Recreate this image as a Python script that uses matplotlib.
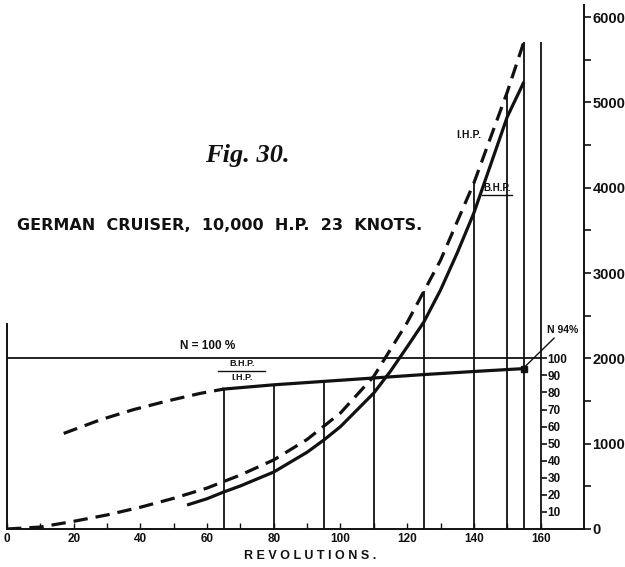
import numpy as np
import matplotlib
matplotlib.use("Agg")
import matplotlib.pyplot as plt

# Indicated horse-power (dashed) against revolutions per minute
rev_ihp = [0, 10, 20, 30, 40, 50, 60, 70, 80, 90, 100, 110, 120, 130, 140, 150, 155]
ihp = [0, 23, 90, 165, 255, 360, 480, 633, 810, 1050, 1360, 1790, 2420, 3150, 4055, 5120, 5710]

# Brake horse-power (solid)
rev_bhp = [54, 60, 65, 70, 80, 90, 95, 100, 110, 115, 120, 125, 130, 135, 140, 150, 155]
bhp = [281, 355, 434, 505, 668, 900, 1043, 1200, 1594, 1850, 2135, 2426, 2801, 3235, 3704, 4830, 5240]

# Mechanical efficiency B.H.P./I.H.P. in per cent (dashed part, then solid part)
rev_eff_low = [17, 28, 38, 48, 58, 65]
eff_low = [56, 64, 70, 75, 79.5, 82]
rev_eff = [65, 80, 95, 110, 125, 140, 155]
eff = [82, 84.5, 86.5, 88.5, 90.5, 92.3, 94]

# Axis scales
rev_ticks = [0, 20, 40, 60, 80, 100, 120, 140, 160]
rev_minor = [10, 30, 50, 70, 90, 110, 130, 150]
hp_ticks = [0, 1000, 2000, 3000, 4000, 5000, 6000]
hp_minor = [500, 1500, 2500, 3500, 4500, 5500]
pct_ticks = [10, 20, 30, 40, 50, 60, 70, 80, 90, 100]
ordinate_revs = [65, 80, 95, 110, 125, 140, 150, 155, 160]

HP_PER_PCT = 20.0        # 100 % is drawn at the 2000 H.P. level
HP_AXIS_REV = 173        # position of the H.P. scale
PCT_AXIS_REV = 160       # position of the per-cent scale
X_MAX = 175

INK = "#111111"
NUM_FONT = "Liberation Sans"

fig = plt.figure(figsize=(6.25, 5.67), dpi=100)
ax = fig.add_axes([7 / 625, 38 / 567, 583.6 / 625, 529 / 567])
ax.set_xlim(0, X_MAX)
ax.set_ylim(0, 6200)
ax.patch.set_alpha(0)

dash = (0, (4.5, 2.5))
lw_curve = 2.3
lw_thin = 1.3

# ordinates up to the curves they meet
for r in ordinate_revs:
    if r <= 110:
        top = np.interp(r, rev_eff, eff) * HP_PER_PCT
    else:
        top = np.interp(min(r, rev_ihp[-1]), rev_ihp, ihp)
    ax.vlines(r, 0, top, color=INK, lw=lw_thin)

# 100 % line
ax.hlines(100 * HP_PER_PCT, 0, PCT_AXIS_REV, color=INK, lw=lw_thin)

# power curves
ax.plot(rev_ihp, ihp, color=INK, lw=lw_curve, linestyle=dash, dash_capstyle="butt")
ax.plot(rev_bhp, bhp, color=INK, lw=lw_curve, solid_capstyle="butt")

# efficiency curve
ax.plot(rev_eff_low, np.array(eff_low) * HP_PER_PCT, color=INK, lw=lw_curve,
        linestyle=dash, dash_capstyle="butt")
ax.plot(rev_eff, np.array(eff) * HP_PER_PCT, color=INK, lw=lw_curve)
ax.plot(rev_eff[-1], eff[-1] * HP_PER_PCT, marker="s", ms=4.5, color=INK)

# spines
ax.spines["top"].set_visible(False)
ax.spines["bottom"].set_bounds(0, HP_AXIS_REV)
ax.spines["left"].set_bounds(0, 2400)
ax.spines["right"].set_position(("data", HP_AXIS_REV))
ax.spines["right"].set_bounds(0, 6140)
for s in ax.spines.values():
    s.set_color(INK)
    s.set_linewidth(1.4)

# revolutions scale
ax.set_xticks(rev_ticks)
ax.set_xticks(rev_minor, minor=True)
ax.set_xticklabels([str(v) for v in rev_ticks], fontfamily=NUM_FONT,
                   fontweight="bold", fontsize=8.5)
ax.tick_params(axis="x", which="both", direction="in", length=4, width=1,
               color=INK, pad=3, labelcolor=INK)
ax.set_xlabel("R E V O L U T I O N S .", fontfamily=NUM_FONT, fontweight="bold",
              fontsize=9, color=INK)
ax.xaxis.set_label_coords(91 / X_MAX, -0.040)

# horse-power scale
ax.yaxis.set_ticks_position("right")
ax.set_yticks(hp_ticks)
ax.set_yticks(hp_minor, minor=True)
ax.set_yticklabels([str(v) for v in hp_ticks], fontfamily=NUM_FONT,
                   fontweight="bold", fontsize=10.5)
ax.tick_params(axis="y", which="both", direction="out", length=5, width=1.2,
               color=INK, pad=1, labelcolor=INK)

# per-cent scale on the 160 revolutions ordinate
pct = ax.secondary_yaxis(PCT_AXIS_REV / X_MAX,
                         functions=(lambda h: h / HP_PER_PCT, lambda p: p * HP_PER_PCT))
pct.set_yticks(pct_ticks)
pct.set_yticklabels([str(v) for v in pct_ticks], fontfamily=NUM_FONT,
                    fontweight="bold", fontsize=8.5)
pct.tick_params(axis="y", direction="out", length=4, width=1.2, color=INK,
                pad=1, labelcolor=INK)
for s in pct.spines.values():
    s.set_visible(False)

# titles
ax.text(3.0, 3560, "GERMAN  CRUISER,  10,000  H.P.  23  KNOTS.", fontsize=11.5,
        fontweight="bold", fontfamily="DejaVu Sans", va="center", ha="left", color=INK)
ax.text(59.3, 4380, "Fig. 30.", fontsize=19, fontweight="bold", fontstyle="italic",
        fontfamily="Liberation Serif", va="center", ha="left", color=INK)

# curve labels
ax.text(60.3, 2150, "N = 100 %", fontsize=8.5, fontweight="bold", fontfamily=NUM_FONT,
        ha="center", va="center", color=INK)
ax.text(70.5, 1935, "B.H.P.", fontsize=6.5, fontweight="bold", fontfamily=NUM_FONT,
        ha="center", va="center", color=INK)
ax.plot([63.3, 77.4], [1850, 1850], color=INK, lw=1)
ax.text(70.5, 1775, "I.H.P.", fontsize=6.5, fontweight="bold", fontfamily=NUM_FONT,
        ha="center", va="center", color=INK)

ax.text(138.6, 4620, "I.H.P.", fontsize=7.5, fontweight="bold", fontfamily=NUM_FONT,
        ha="center", va="center", color=INK)
ax.text(147.0, 4000, "B.H.P.", fontsize=7, fontweight="bold", fontfamily=NUM_FONT,
        ha="center", va="center", color=INK)
ax.plot([142.4, 151.4], [3910, 3910], color=INK, lw=1)

ax.annotate("N 94%", xy=(155.5, eff[-1] * HP_PER_PCT + 30), xytext=(161.8, 2330),
            fontsize=7.5, fontweight="bold", fontfamily=NUM_FONT, va="center",
            ha="left", color=INK,
            arrowprops=dict(arrowstyle="-", color=INK, lw=1, shrinkA=0, shrinkB=0))

fig.savefig("out.png", dpi=100, facecolor="white")
